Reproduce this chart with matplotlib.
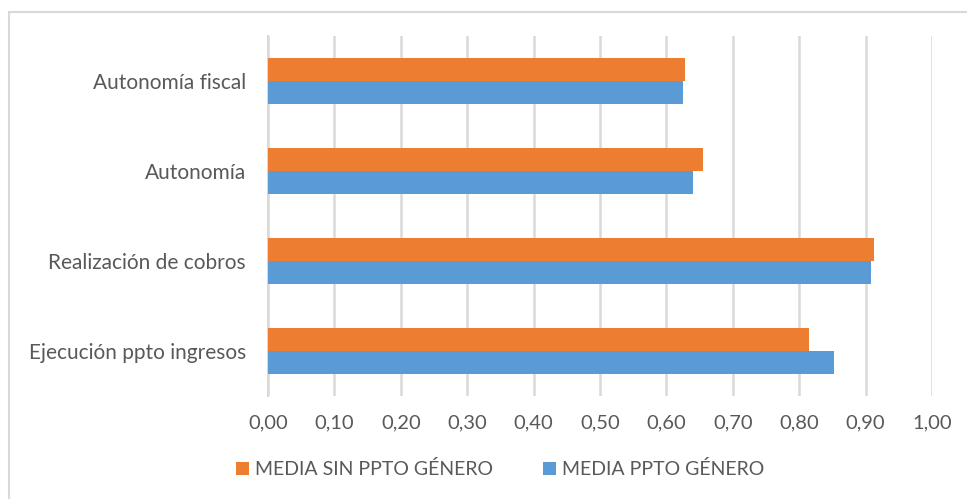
import numpy as np
import matplotlib.pyplot as plt
from matplotlib.patches import Rectangle

plt.rcParams['font.family'] = ['Lato', 'DejaVu Sans']

# datos
categorias = ['Ejecución ppto ingresos', 'Realización de cobros', 'Autonomía', 'Autonomía fiscal']
media_ppto_genero = [0.852, 0.908, 0.640, 0.625]
media_sin_ppto_genero = [0.815, 0.912, 0.655, 0.628]
ticks = np.arange(0, 1.01, 0.1)
tick_labels = [f'{t:.2f}'.replace('.', ',') for t in ticks]

azul = '#5B9BD5'
naranja = '#ED7D31'
gris_texto = '#595959'
gris_linea = '#D9D9D9'

fig = plt.figure(figsize=(9.67, 4.99), dpi=100)
ax = fig.add_axes([268 / 967, 1 - 396 / 499, 664 / 967, 360 / 499])

y = np.arange(len(categorias))
h = 0.255
ax.barh(y - h / 2, media_ppto_genero, height=h, color=azul, label='MEDIA PPTO GÉNERO', zorder=3)
ax.barh(y + h / 2, media_sin_ppto_genero, height=h, color=naranja, label='MEDIA SIN PPTO GÉNERO', zorder=3)

ax.set_xlim(0, 1.0)
ax.set_ylim(-0.5, len(categorias) - 0.5)
ax.set_xticks(ticks)
ax.set_xticklabels(tick_labels, fontsize=14.5, color=gris_texto)
ax.set_yticks(y)
ax.set_yticklabels(categorias, fontsize=15, color=gris_texto)
ax.tick_params(axis='both', length=0)
ax.tick_params(axis='x', pad=13)
ax.tick_params(axis='y', pad=16)

ax.grid(axis='x', color=gris_linea, linewidth=1.8, zorder=0)
for lado in ['top', 'right', 'bottom']:
    ax.spines[lado].set_visible(False)
ax.spines['left'].set_color(gris_linea)
ax.spines['left'].set_linewidth(1.5)

# leyenda con el orden de la serie naranja primero
handles, labels = ax.get_legend_handles_labels()
fig.legend(handles[::-1], labels[::-1], loc='center', bbox_to_anchor=(500 / 967, 1 - 469 / 499),
           ncol=2, frameon=False, fontsize=14, labelcolor=gris_texto,
           handlelength=0.65, handleheight=0.65, handletextpad=0.3, columnspacing=2.6)

# marco exterior
fig.patches.append(Rectangle((9 / 967, -0.05), 1.0, 1.05 - 12 / 499, transform=fig.transFigure,
                             fill=False, edgecolor=gris_linea, linewidth=1.5))

fig.savefig('out.png', dpi=100)
